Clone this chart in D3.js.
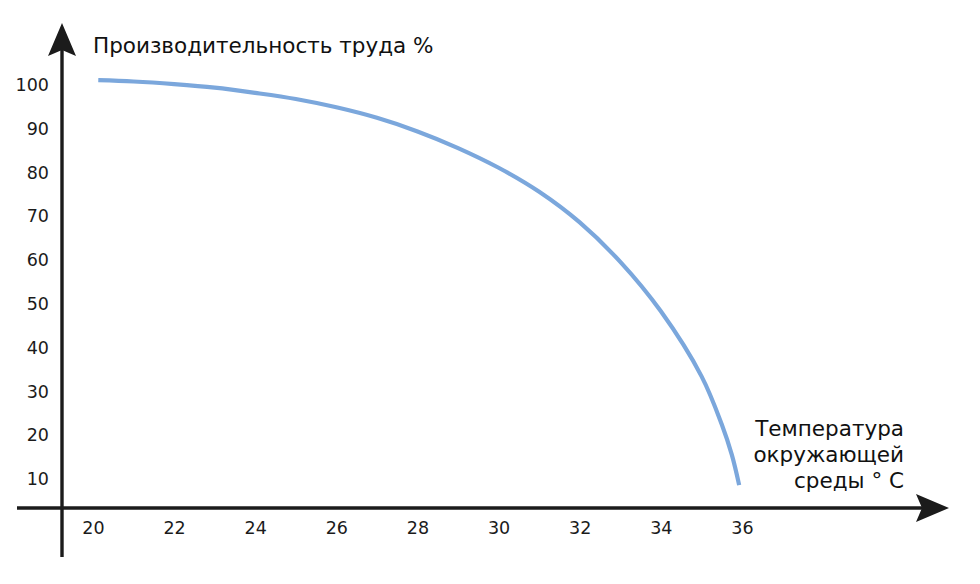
<!DOCTYPE html>
<html>
<head>
<meta charset="UTF-8">
<title>Производительность труда</title>
<script src="https://cdn.jsdelivr.net/npm/d3@7"></script>
<style>
body { margin: 0; background: #fff; }
svg { display: block; font-family: "DejaVu Sans", sans-serif; }
</style>
</head>
<body>
<svg id="chart" width="980" height="584"></svg>
<script>
// data
var temps = [20.13, 21, 22, 23, 24, 25, 26, 27, 28, 29, 30, 31, 32, 33, 34, 35, 35.5, 35.75, 35.93];
var productivity = [101.1, 100.8, 100.2, 99.4, 98.2, 96.8, 94.9, 92.5, 89.4, 85.6, 81.1, 75.6, 68.6, 59.6, 48.3, 33.5, 22.5, 15.5, 8.6];
var xTicks = [20, 22, 24, 26, 28, 30, 32, 34, 36];
var yTicks = [10, 20, 30, 40, 50, 60, 70, 80, 90, 100];
var yTitle = "Производительность труда %";
var xTitle = ["Температура", "окружающей", "среды ° С"];

var axisColor = "#1b1b1b";
var lineColor = "#7ba7dc";

var svg = d3.select("#chart");

var x = d3.scaleLinear().domain([20, 36]).range([93, 742]);
var y = d3.scaleLinear().domain([0, 100]).range([522.8, 85]);

var originX = 62, originY = 508;

// axes lines
svg.append("line").attr("x1", originX).attr("x2", originX).attr("y1", 557).attr("y2", 50)
	.attr("stroke", axisColor).attr("stroke-width", 3.4);
svg.append("line").attr("x1", 17).attr("x2", 925).attr("y1", originY).attr("y2", originY)
	.attr("stroke", axisColor).attr("stroke-width", 3.4);

// arrow heads
svg.append("path")
	.attr("d", "M" + originX + ",23 L" + (originX + 14) + ",56 L" + originX + ",50 L" + (originX - 14) + ",56 Z")
	.attr("fill", axisColor);
svg.append("path")
	.attr("d", "M949," + originY + " L916," + (originY - 14) + " L922," + originY + " L916," + (originY + 14) + " Z")
	.attr("fill", axisColor);

// tick labels via d3 axes, no tick lines
var gx = svg.append("g").attr("transform", "translate(0," + 521 + ")")
	.call(d3.axisBottom(x).tickValues(xTicks).tickSize(0));
gx.attr("font-family", null).attr("font-size", 17.5);
gx.select(".domain").remove();
gx.selectAll("text").attr("fill", axisColor).attr("y", 0).attr("dy", "0.76em");

var gy = svg.append("g").attr("transform", "translate(49,0)")
	.call(d3.axisLeft(y).tickValues(yTicks).tickSize(0));
gy.attr("font-family", null).attr("font-size", 17.5);
gy.select(".domain").remove();
gy.selectAll("text").attr("fill", axisColor).attr("x", 0);

// curve
var line = d3.line()
	.x(function(d, i) { return x(temps[i]); })
	.y(function(d) { return y(d); })
	.curve(d3.curveCatmullRom.alpha(0.5));
svg.append("path").datum(productivity)
	.attr("d", line)
	.attr("fill", "none")
	.attr("stroke", lineColor)
	.attr("stroke-width", 4.2);

// titles
svg.append("text").attr("x", 93).attr("y", 53).text(yTitle)
	.attr("font-size", 21.5).attr("fill", "#111");
svg.selectAll(".xtitle").data(xTitle).enter().append("text")
	.attr("class", "xtitle")
	.attr("x", 904)
	.attr("y", function(d, i) { return 436 + i * 26; })
	.attr("text-anchor", "end")
	.attr("font-size", 21.5).attr("fill", "#111")
	.text(function(d) { return d; });
</script>
</body>
</html>
